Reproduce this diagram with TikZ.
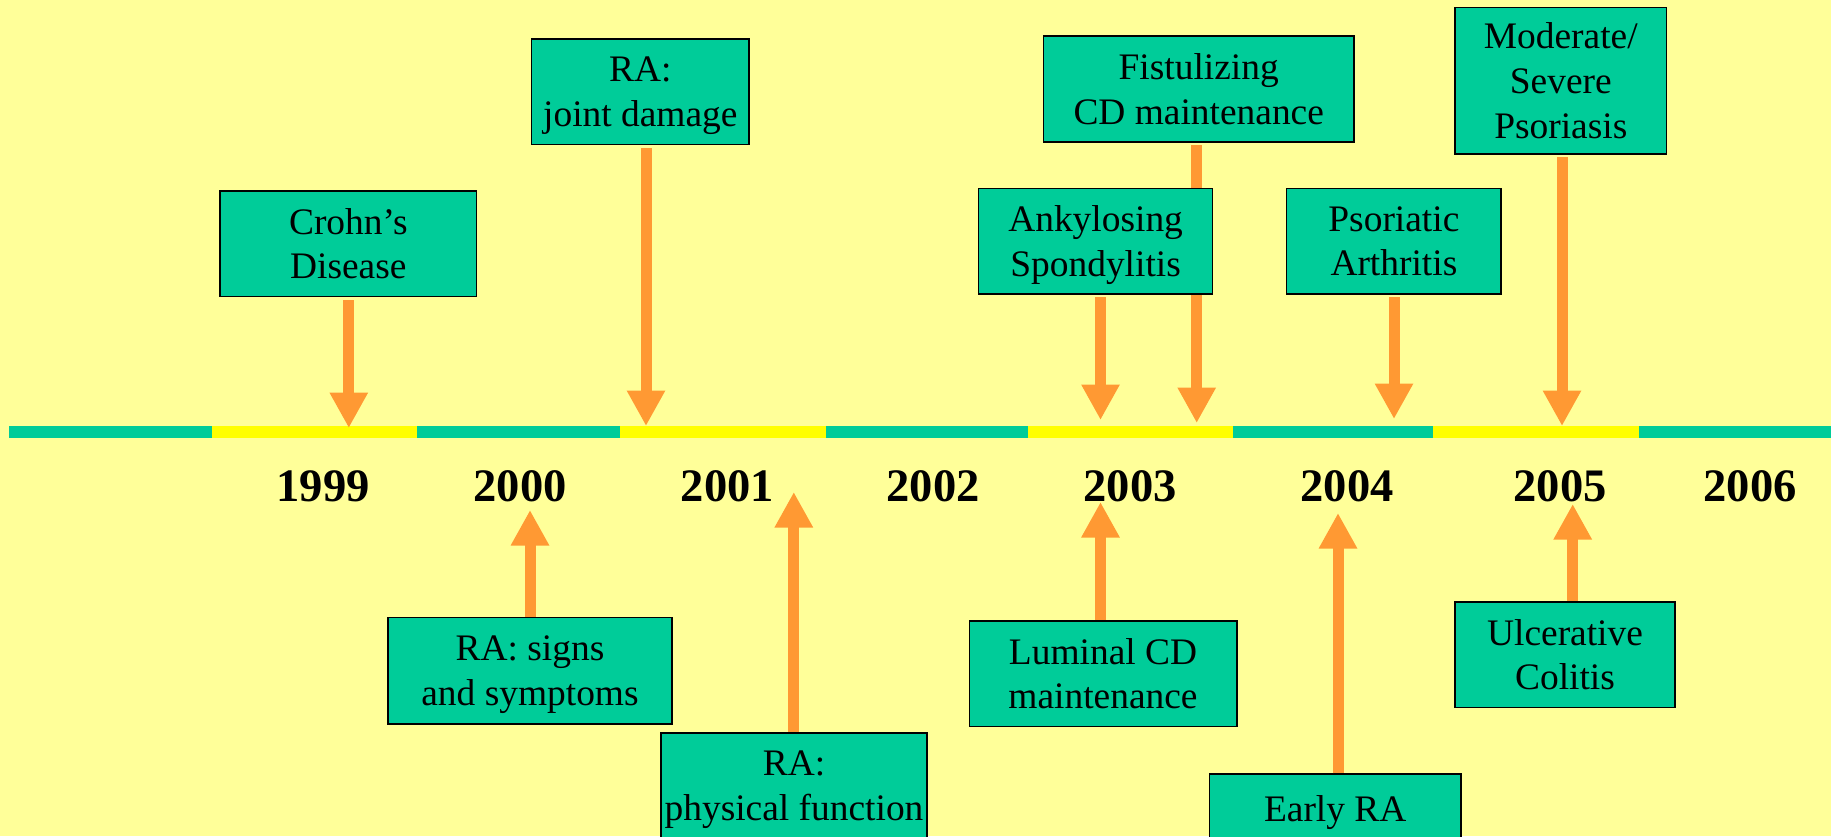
\documentclass[tikz,border=0pt]{standalone}
\usepackage{fontspec}
\setmainfont{Liberation Serif}
\usetikzlibrary{arrows.meta}

\definecolor{phbg}{HTML}{FFFF99}
\definecolor{phteal}{HTML}{00CC99}
\definecolor{phyellow}{HTML}{FFFF00}
\definecolor{phorange}{HTML}{FF9933}

% last line without descender depth, so boxes centre like the slide
\newcommand\nodesc[1]{\raisebox{0pt}[\height][0pt]{#1}}

\begin{document}
\begin{tikzpicture}[x=0.02cm, y=-0.02cm,
  indbox/.style={draw=black, line width=0.9pt, fill=phteal, align=center, inner sep=0pt,
    font=\fontsize{21.3}{25.5}\selectfont},
  yearlbl/.style={anchor=base, font=\fontsize{26.5}{30}\selectfont\bfseries},
  apparrow/.style={draw=phorange, line width=0.22cm, -{Triangle[width=0.72cm,length=0.71cm]}},
  downarrow/.style={apparrow, shorten <=1.5pt}]

  \useasboundingbox (0,0) rectangle (1831,836);
  \fill[phbg] (0,0) rectangle (1831,836);
  \clip (0,0) rectangle (1831,836);

  % time line
  \foreach \a/\b/\c in {9/211.7/phteal, 211.7/417/phyellow, 417/620/phteal,
      620/826/phyellow, 826/1028/phteal, 1028/1233/phyellow,
      1233/1432.7/phteal, 1432.7/1639/phyellow, 1639/1831/phteal}
    \fill[\c] (\a,426) rectangle (\b,437.7);

  \foreach \yr/\x in {1999/323, 2000/520, 2001/727.5, 2002/933,
      2003/1130, 2004/1347, 2005/1560, 2006/1750}
    \node[yearlbl] (y\yr) at (\x,501.7) {\yr};

  % arrow tips
  \coordinate (tcrohn) at (348.8,428);
  \coordinate (tjoint) at (646,426);
  \coordinate (tfistul) at (1196.7,423);
  \coordinate (tankyl) at (1100.5,420);
  \coordinate (tpsorart) at (1394,419);
  \coordinate (tmodsev) at (1562,426);
  \coordinate (tsigns) at (530,510);
  \coordinate (tphys) at (793.8,492);
  \coordinate (tlumin) at (1100.5,502);
  \coordinate (tearly) at (1338,513);
  \coordinate (tulcer) at (1572.7,504);

  % above the line
  \node[indbox, minimum width=5.13cm, minimum height=2.12cm] (crohn) at (348.3,243.7) {Crohn’s\\Disease};
  \draw[downarrow] (tcrohn |- crohn.south) -- (tcrohn);

  \node[indbox, minimum width=4.35cm, minimum height=2.11cm] (joint) at (640.3,91.7) {RA:\\\nodesc{joint damage}};
  \draw[downarrow] (tjoint |- joint.south) -- (tjoint);

  \node[indbox, minimum width=6.21cm, minimum height=2.12cm] (fistul) at (1198.7,89) {Fistulizing\\CD maintenance};
  \draw[downarrow] (tfistul |- fistul.south) -- (tfistul);

  \node[indbox, minimum width=4.68cm, minimum height=2.11cm] (ankyl) at (1095.6,241.2) {Ankylosing\\\nodesc{Spondylitis}};
  \draw[downarrow] (tankyl |- ankyl.south) -- (tankyl);

  \node[indbox, minimum width=4.29cm, minimum height=2.11cm] (psorart) at (1393.9,241.2) {Psoriatic\\Arthritis};
  \draw[downarrow] (tpsorart |- psorart.south) -- (tpsorart);

  \node[indbox, minimum width=4.23cm, minimum height=2.93cm] (modsev) at (1560.8,80.7) {Moderate/\\Severe\\Psoriasis};
  \draw[downarrow] (tmodsev |- modsev.south) -- (tmodsev);

  % below the line
  \node[indbox, minimum width=5.67cm, minimum height=2.13cm] (signs) at (530,670.9) {RA: signs\\\nodesc{and symptoms}};
  \draw[apparrow] (tsigns |- signs.north) -- (tsigns);

  \node[indbox, minimum width=5.33cm, minimum height=2.12cm] (phys) at (794,785.7) {RA:\\\nodesc{physical function}};
  \draw[apparrow] (tphys |- phys.north) -- (tphys);

  \node[indbox, minimum width=5.35cm, minimum height=2.12cm] (lumin) at (1103,673.7) {Luminal CD\\maintenance};
  \draw[apparrow] (tlumin |- lumin.north) -- (tlumin);

  \node[indbox, minimum width=5.03cm, minimum height=1.37cm] (early) at (1335.2,808.4) {\nodesc{Early RA}};
  \draw[apparrow] (tearly |- early.north) -- (tearly);

  \node[indbox, minimum width=4.4cm, minimum height=2.12cm] (ulcer) at (1565,654.7) {Ulcerative\\Colitis};
  \draw[apparrow] (tulcer |- ulcer.north) -- (tulcer);

\end{tikzpicture}
\end{document}
